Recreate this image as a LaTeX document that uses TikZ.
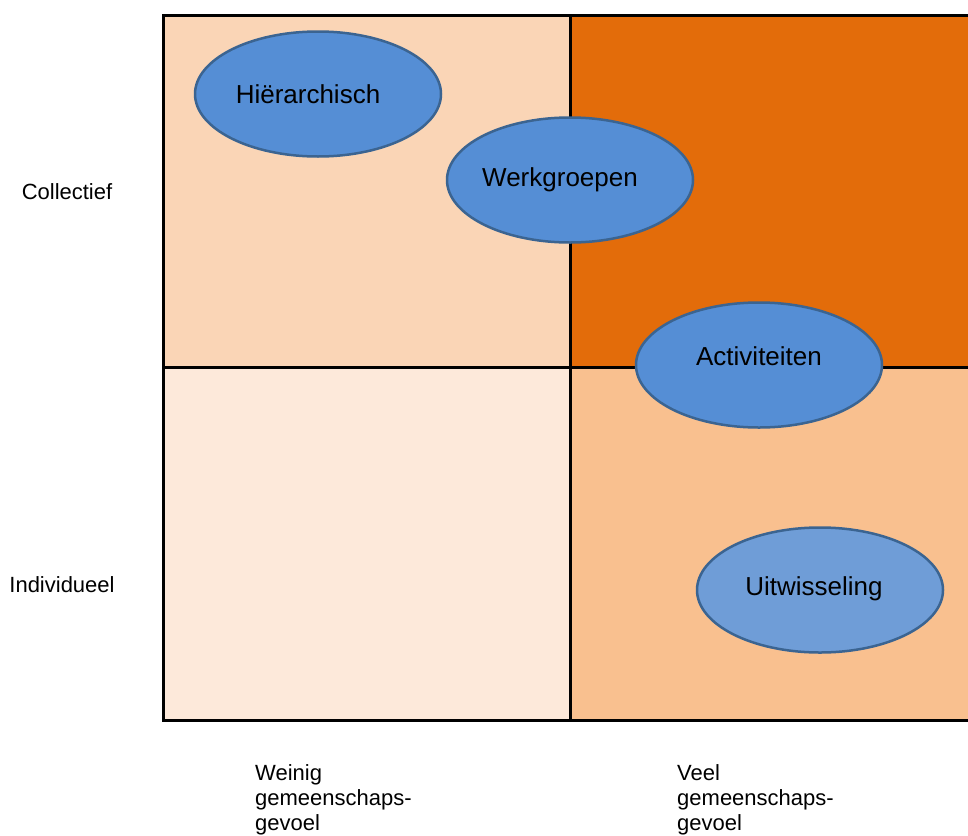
\documentclass[tikz,border=0pt]{standalone}
\usepackage{fontspec}
\setmainfont{Liberation Sans}
\usetikzlibrary{shapes.geometric}
\definecolor{vakLB}{HTML}{FAD5B6}
\definecolor{vakRB}{HTML}{E36C0A}
\definecolor{vakLO}{HTML}{FDE9DA}
\definecolor{vakRO}{HTML}{F9C08F}
\definecolor{bolvul}{HTML}{558ED5}
\definecolor{bolrand}{HTML}{3B6491}
\tikzset{ bol/.style = { ellipse % blauwe ovaal
        , draw = bolrand
        , line width = 2.5pt
        , fill = bolvul
        , minimum width = 246pt
        , minimum height = 125pt
        , font = \fontsize{26}{30}\selectfont
        }
        , links/.style = { execute at begin node = \hspace*{-#1} } % tekst iets naar links
        , as/.style = { rectangle % as-label
        , inner sep = 0pt
        , font = \fontsize{22}{25}\selectfont
        }
        , onder/.style = { as % onderschrift
        , anchor = north west
        , align = left
        }
        , rooster/.style = { line width = 3pt, line cap = rect }
        }

\begin{document}
\begin{tikzpicture}[x=1pt, y=-1pt]
        \useasboundingbox (0,0) rectangle (968,835);

        % vakken
        \fill [vakLB] (163,15) rectangle (570,367);
        \fill [vakRB] (570,15) rectangle (968,367);
        \fill [vakLO] (163,367) rectangle (570,720);
        \fill [vakRO] (570,367) rectangle (968,720);
        \draw [rooster] (968,15) -- (163,15) -- (163,720) -- (968,720);
        \draw [rooster] (570,15) -- (570,720);
        \draw [rooster] (163,367) -- (968,367);

        % ovalen
        \node [bol, links=20pt] (hier) at (318,94) {Hiërarchisch};
        \node [bol, links=20pt, text depth=6pt] (werk) at (570,180) {Werkgroepen};
        \node [bol, text depth=17pt] (activ) at (759,365) {Activiteiten};
        \node [bol, links=12pt, text depth=7pt, fill=bolvul!85!white!95!gray] (uitw) at (820,590) {Uitwisseling};

        % assen
        \node [as] (coll) at (67,192) {Collectief};
        \node [as] (indiv) at (62,585) {Individueel};
        \node [onder] (weinig) at (255,764) {Weinig\\gemeenschaps-\\gevoel};
        \node [onder] (veel) at (677,764) {Veel\\gemeenschaps-\\gevoel};
\end{tikzpicture}
\end{document}
